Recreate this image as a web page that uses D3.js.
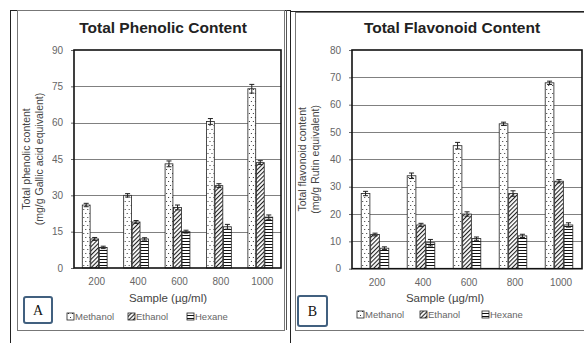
<!DOCTYPE html>
<meta charset="utf-8">
<script src="https://d3js.org/d3.v7.min.js"></script>
<style>
  body { margin: 0; background: #fff; }
  text { font-family: "Liberation Sans", Arial, sans-serif; }
</style>
<div id="my_dataviz"></div>
<script>

// categories and series
var samples = ["200", "400", "600", "800", "1000"];
var solvents = ["Methanol", "Ethanol", "Hexane"];

// panel A - total phenolic content
var phenolicMethanol = [26, 30, 43, 60.5, 74];
var phenolicEthanol  = [12, 19, 25, 34, 43.5];
var phenolicHexane   = [8.5, 12, 15, 17, 21];
var phenolicMethanolErr = [0.7, 0.7, 1.2, 1.2, 1.8];
var phenolicEthanolErr  = [0.6, 0.6, 1.0, 0.8, 0.8];
var phenolicHexaneErr   = [0.5, 0.5, 0.6, 1.0, 0.9];
var phenolicTicks = [0, 15, 30, 45, 60, 75, 90];

// panel B - total flavonoid content
var flavonoidMethanol = [27.5, 34, 45, 53, 68];
var flavonoidEthanol  = [12.5, 16, 20, 27.5, 32];
var flavonoidHexane   = [7.5, 9.5, 11, 12, 16];
var flavonoidMethanolErr = [0.8, 1.0, 1.2, 0.6, 0.6];
var flavonoidEthanolErr  = [0.5, 0.6, 0.8, 1.0, 0.6];
var flavonoidHexaneErr   = [0.5, 1.2, 0.6, 0.6, 0.8];
var flavonoidTicks = [0, 10, 20, 30, 40, 50, 60, 70, 80];

var svg = d3.select("#my_dataviz")
  .append("svg")
    .attr("width", 584)
    .attr("height", 343);

// fill patterns
var defs = svg.append("defs");
var pDots = defs.append("pattern").attr("id", "pat0")
  .attr("patternUnits", "userSpaceOnUse").attr("width", 4).attr("height", 8);
pDots.append("rect").attr("width", 4).attr("height", 8).attr("fill", "#fff");
pDots.append("rect").attr("x", 1).attr("y", 1).attr("width", 1).attr("height", 1).attr("fill", "#333");
pDots.append("rect").attr("x", 3).attr("y", 5).attr("width", 1).attr("height", 1).attr("fill", "#333");

var pDiag = defs.append("pattern").attr("id", "pat1")
  .attr("patternUnits", "userSpaceOnUse").attr("width", 3).attr("height", 3)
  .attr("patternTransform", "rotate(45)");
pDiag.append("rect").attr("width", 3).attr("height", 3).attr("fill", "#fff");
pDiag.append("line").attr("x1", 0.5).attr("x2", 0.5).attr("y1", 0).attr("y2", 3)
  .attr("stroke", "#222").attr("stroke-width", 1.2);

var pHoriz = defs.append("pattern").attr("id", "pat2")
  .attr("patternUnits", "userSpaceOnUse").attr("width", 4).attr("height", 3);
pHoriz.append("rect").attr("width", 4).attr("height", 3).attr("fill", "#fff");
pHoriz.append("line").attr("x1", 0).attr("x2", 4).attr("y1", 1.5).attr("y2", 1.5)
  .attr("stroke", "#111").attr("stroke-width", 1);

// outer table lines
svg.append("line").attr("x1", 10).attr("x2", 291).attr("y1", 10.5).attr("y2", 10.5).attr("stroke", "#222");
svg.append("line").attr("x1", 291).attr("x2", 584).attr("y1", 11.5).attr("y2", 11.5).attr("stroke", "#222");
svg.append("line").attr("x1", 10.5).attr("x2", 10.5).attr("y1", 10).attr("y2", 343).attr("stroke", "#222");
svg.append("line").attr("x1", 290.5).attr("x2", 290.5).attr("y1", 10).attr("y2", 343).attr("stroke", "#222");

function drawChart(cfg) {
  var g = svg.append("g");

  // chart frame
  g.append("rect")
    .attr("x", cfg.frame[0] + 0.5).attr("y", cfg.frame[1] + 0.5)
    .attr("width", cfg.frame[2] - cfg.frame[0]).attr("height", cfg.frame[3] - cfg.frame[1])
    .attr("fill", "none").attr("stroke", "#777");

  var x = d3.scaleBand()
    .domain(samples)
    .range([cfg.left, cfg.right])
    .paddingInner(0.4)
    .paddingOuter(0.2);
  var xs = d3.scaleBand()
    .domain(solvents)
    .range([0, x.bandwidth()])
    .paddingInner(0.08);
  var y = d3.scaleLinear()
    .domain([0, d3.max(cfg.ticks)])
    .range([cfg.bottom, cfg.top]);

  // gridlines
  g.append("g").selectAll("line")
    .data(cfg.ticks.slice(1, -1))
    .enter().append("line")
      .attr("x1", cfg.left).attr("x2", cfg.right)
      .attr("y1", function(d) { return Math.round(y(d)) + 0.5; })
      .attr("y2", function(d) { return Math.round(y(d)) + 0.5; })
      .attr("stroke", "#808080").attr("stroke-width", 1.2);

  // y axis
  var yAxis = g.append("g")
    .attr("transform", "translate(" + cfg.left + ",0)")
    .call(d3.axisLeft(y).tickValues(cfg.ticks).tickSize(3).tickPadding(8));
  yAxis.select(".domain").remove();
  yAxis.selectAll("line").attr("stroke", "#666");
  yAxis.selectAll("text").attr("fill", "#666").style("font-size", "10px");

  // x axis labels
  var xAxis = g.append("g")
    .attr("transform", "translate(0," + cfg.bottom + ")")
    .call(d3.axisBottom(x).tickSize(0).tickPadding(10));
  xAxis.select(".domain").remove();
  xAxis.selectAll("text").attr("fill", "#666").style("font-size", "10px")
    .attr("dx", 2);

  // bars
  var groups = g.append("g").selectAll("g")
    .data(samples)
    .enter().append("g")
      .attr("transform", function(d) { return "translate(" + x(d) + ",0)"; });

  solvents.forEach(function(s, si) {
    groups.append("rect")
      .attr("x", xs(s))
      .attr("y", function(d, i) { return y(cfg.values[si][i]); })
      .attr("width", xs.bandwidth())
      .attr("height", function(d, i) { return cfg.bottom - y(cfg.values[si][i]); })
      .attr("fill", "url(#pat" + si + ")")
      .attr("stroke", "#222").attr("stroke-width", 0.8);

    // error bars
    var eb = groups.append("g")
      .attr("stroke", "#222").attr("stroke-width", 1);
    var cx = xs(s) + xs.bandwidth() / 2;
    eb.append("line")
      .attr("x1", cx).attr("x2", cx)
      .attr("y1", function(d, i) { return y(cfg.values[si][i] + cfg.errors[si][i]); })
      .attr("y2", function(d, i) { return y(cfg.values[si][i] - cfg.errors[si][i]); });
    [1, -1].forEach(function(sign) {
      eb.append("line")
        .attr("x1", cx - 2.5).attr("x2", cx + 2.5)
        .attr("y1", function(d, i) { return y(cfg.values[si][i] + sign * cfg.errors[si][i]); })
        .attr("y2", function(d, i) { return y(cfg.values[si][i] + sign * cfg.errors[si][i]); });
    });
  });

  // plot area border
  g.append("rect")
    .attr("x", cfg.left).attr("y", cfg.top)
    .attr("width", cfg.right - cfg.left).attr("height", cfg.bottom - cfg.top)
    .attr("fill", "none").attr("stroke", "#111").attr("stroke-width", 1.6);

  // titles
  g.append("text")
    .attr("x", cfg.titleX).attr("y", 33)
    .attr("text-anchor", "middle")
    .style("font-size", "15.5px").style("font-weight", "bold").attr("fill", "#222")
    .text(cfg.title);

  g.append("text")
    .attr("x", cfg.xTitleX).attr("y", 302)
    .attr("text-anchor", "middle")
    .style("font-size", "11.5px").attr("fill", "#444")
    .text("Sample (\u00b5g/ml)");

  var yt = g.append("text")
    .attr("transform", "translate(" + cfg.yTitleX + "," + ((cfg.top + cfg.bottom) / 2) + ") rotate(-90)")
    .attr("text-anchor", "middle")
    .style("font-size", "10.5px").attr("fill", "#444");
  yt.append("tspan").attr("x", 0).attr("dy", 0).text(cfg.yTitle[0]);
  yt.append("tspan").attr("x", 0).attr("dy", 13).text(cfg.yTitle[1]);

  // legend
  var leg = g.append("g").selectAll("g")
    .data(solvents)
    .enter().append("g")
      .attr("transform", function(d, i) { return "translate(" + cfg.legendX[i] + "," + cfg.legendY + ")"; });
  leg.append("rect")
    .attr("x", 0).attr("y", -7).attr("width", 7).attr("height", 7)
    .attr("fill", function(d, i) { return "url(#pat" + i + ")"; })
    .attr("stroke", "#222").attr("stroke-width", 0.8);
  leg.append("text")
    .attr("x", 8).attr("y", 0)
    .style("font-size", "9.5px").attr("fill", "#666")
    .text(function(d) { return d; });

  // panel letter box
  g.append("rect")
    .attr("x", cfg.box[0]).attr("y", cfg.box[1])
    .attr("width", cfg.box[2]).attr("height", cfg.box[3])
    .attr("rx", 2)
    .attr("fill", "#fff").attr("stroke", "#41607f").attr("stroke-width", 2);
  g.append("text")
    .attr("x", cfg.box[0] + cfg.box[2] / 2).attr("y", cfg.box[1] + cfg.box[3] / 2 + 5)
    .attr("text-anchor", "middle")
    .style("font-family", "'Liberation Serif', serif").style("font-size", "14px").attr("fill", "#111")
    .text(cfg.letter);
}

drawChart({
  frame: [17, 10, 284, 330],
  left: 74, right: 281, top: 50, bottom: 268,
  ticks: phenolicTicks,
  values: [phenolicMethanol, phenolicEthanol, phenolicHexane],
  errors: [phenolicMethanolErr, phenolicEthanolErr, phenolicHexaneErr],
  title: "Total Phenolic Content", titleX: 163,
  xTitleX: 168,
  yTitle: ["Total phenolic content", "(mg/g Gallic acid equivalent)"], yTitleX: 30,
  legendX: [67, 128, 187], legendY: 320,
  box: [24, 297, 28, 26], letter: "A"
});

drawChart({
  frame: [295, 12, 590, 330],
  left: 352, right: 582, top: 50, bottom: 268.7,
  ticks: flavonoidTicks,
  values: [flavonoidMethanol, flavonoidEthanol, flavonoidHexane],
  errors: [flavonoidMethanolErr, flavonoidEthanolErr, flavonoidHexaneErr],
  title: "Total Flavonoid Content", titleX: 452,
  xTitleX: 445,
  yTitle: ["Total flavonoid content", "(mg/g Rutin equivalent)"], yTitleX: 306,
  legendX: [357, 420, 482], legendY: 318,
  box: [298, 296, 29, 30], letter: "B"
});

// double edge line beside panel A
svg.append("line").attr("x1", 286.5).attr("x2", 286.5).attr("y1", 10).attr("y2", 330).attr("stroke", "#555");
</script>
